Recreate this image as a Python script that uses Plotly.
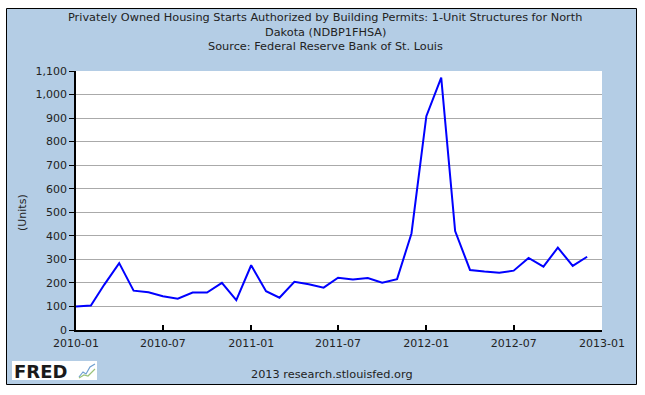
import plotly.graph_objects as go

# ---- data ----
months = [
    "2010-01", "2010-02", "2010-03", "2010-04", "2010-05", "2010-06",
    "2010-07", "2010-08", "2010-09", "2010-10", "2010-11", "2010-12",
    "2011-01", "2011-02", "2011-03", "2011-04", "2011-05", "2011-06",
    "2011-07", "2011-08", "2011-09", "2011-10", "2011-11", "2011-12",
    "2012-01", "2012-02", "2012-03", "2012-04", "2012-05", "2012-06",
    "2012-07", "2012-08", "2012-09", "2012-10", "2012-11", "2012-12",
]
permits = [
    100, 104, 193, 284, 167, 160,
    143, 133, 159, 159, 200, 127,
    275, 165, 137, 205, 194, 180,
    222, 214, 221, 201, 216, 410,
    908, 1072, 420, 255, 248, 243,
    252, 306, 269, 350, 272, 311,
]
x_ticks = ["2010-01", "2010-07", "2011-01", "2011-07", "2012-01", "2012-07", "2013-01"]

title_lines = [
    "Privately Owned Housing Starts Authorized by Building Permits: 1-Unit Structures for North",
    "Dakota (NDBP1FHSA)",
    "Source: Federal Reserve Bank of St. Louis",
]
y_title = "(Units)"
footer = "2013 research.stlouisfed.org"

# ---- geometry ----
W, H = 645, 395
ML, MR, MT, MB = 76, 43, 71, 65
PW, PH = W - ML - MR, H - MT - MB


def px(x):
    return (x - ML) / PW


def py(y):
    return (H - MB - y) / PH


BLUE_BG = "#b4cde5"
FONT = "DejaVu Sans"

fig = go.Figure()
fig.add_trace(go.Scatter(
    x=[m + "-01" for m in months], y=permits, mode="lines",
    line=dict(color="#0000ff", width=2), hoverinfo="skip", showlegend=False,
))

shapes = [
    # outer blue panel with black border
    dict(type="rect", xref="paper", yref="paper", x0=px(6.5), x1=px(636.5),
         y0=py(384.5), y1=py(8.5), fillcolor=BLUE_BG,
         line=dict(color="black", width=1), layer="below"),
    # white plot area
    dict(type="rect", xref="x domain", yref="y domain", x0=0, x1=1, y0=0, y1=1,
         fillcolor="white", line=dict(width=0), layer="below"),
    # FRED logo box
    dict(type="rect", xref="paper", yref="paper", x0=px(12), x1=px(97),
         y0=py(380), y1=py(361), fillcolor="white", line=dict(width=0), layer="below"),
    # logo mini chart icon
    dict(type="path", xref="paper", yref="paper",
         path=f"M {px(79)},{py(377)} L {px(83)},{py(372)} L {px(86)},{py(374)} L {px(90)},{py(367)} L {px(95)},{py(364)}",
         line=dict(color="#6f9fd0", width=1.2), layer="above"),
    dict(type="path", xref="paper", yref="paper",
         path=f"M {px(79)},{py(378)} L {px(84)},{py(375)} L {px(88)},{py(376)} L {px(95)},{py(369)}",
         line=dict(color="#9bc27a", width=1.2), layer="above"),
]

annotations = []
for i, t in enumerate(title_lines):
    annotations.append(dict(
        text=t, xref="paper", yref="paper", x=px(325), y=py(18 + i * 14.5),
        xanchor="center", yanchor="middle", showarrow=False,
        font=dict(family=FONT, size=11.3, color="#222222"),
    ))
annotations.append(dict(
    text=y_title, xref="paper", yref="paper", x=px(22), y=py(213),
    xanchor="center", yanchor="middle", showarrow=False, textangle=-90,
    font=dict(family=FONT, size=11, color="#222222"),
))
annotations.append(dict(
    text=footer, xref="paper", yref="paper", x=px(332), y=py(374),
    xanchor="center", yanchor="middle", showarrow=False,
    font=dict(family=FONT, size=11.3, color="#222222"),
))
annotations.append(dict(
    text="<b>FRED</b>", xref="paper", yref="paper", x=px(12), y=py(371),
    xanchor="left", yanchor="middle", showarrow=False,
    font=dict(family=FONT, size=18, color="#1a1a1a"),
))

fig.update_layout(
    width=W, height=H,
    margin=dict(l=ML, r=MR, t=MT, b=MB, autoexpand=False),
    paper_bgcolor="white", plot_bgcolor="white",
    shapes=shapes, annotations=annotations,
    font=dict(family=FONT, size=11, color="#222222"),
    xaxis=dict(
        type="date", range=["2010-01-01", "2013-01-01"],
        tickvals=[t + "-01" for t in x_ticks], ticktext=x_ticks,
        showgrid=False, zeroline=False,
        showline=True, linecolor="black", linewidth=1.5,
        ticks="inside", ticklen=5, tickcolor="black", tickwidth=1.5,
        ticklabelstandoff=2,
        tickfont=dict(family=FONT, size=11, color="#222222"),
    ),
    yaxis=dict(
        range=[0, 1100], dtick=100, tick0=0, tickformat=",d",
        showgrid=True, gridcolor="#aaaaaa", gridwidth=1, zeroline=False,
        showline=True, linecolor="black", linewidth=1.5,
        ticks="outside", ticklen=5, tickcolor="black", tickwidth=1,
        tickfont=dict(family=FONT, size=11, color="#222222"),
    ),
)

fig.write_html(
    "out.html",
    config={"displayModeBar": False},
    post_script="document.body.style.margin='0';document.body.style.overflow='hidden';",
)
